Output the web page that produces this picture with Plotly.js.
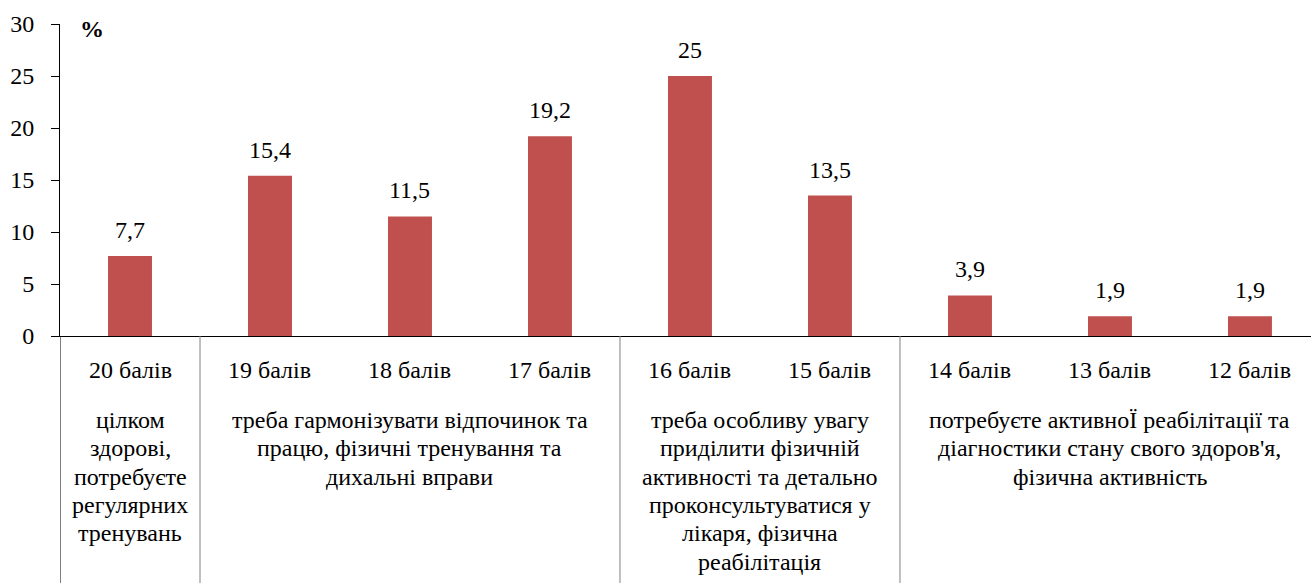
<!DOCTYPE html>
<html>
<head>
<meta charset="utf-8">
<script src="https://cdn.plot.ly/plotly-3.0.1.min.js"></script>
<style>html,body{margin:0;padding:0;overflow:hidden;background:#fff}</style>
</head>
<body>
<div id="chart" style="width:1311px;height:583px"></div>
<script>
var scoreLabels = ["20 балів","19 балів","18 балів","17 балів","16 балів","15 балів","14 балів","13 балів","12 балів"];
var shares = [7.7, 15.4, 11.5, 19.2, 25, 13.5, 3.9, 1.9, 1.9];
var shareLabels = ["7,7","15,4","11,5","19,2","25","13,5","3,9","1,9","1,9"];
var groupFirst = [0, 1, 4, 6];
var groupLast = [0, 3, 5, 8];
var groupDescriptions = [
  ["цілком", "здорові,", "потребуєте", "регулярних", "тренувань"],
  ["треба гармонізувати відпочинок та", "працю, фізичні тренування та", "дихальні вправи"],
  ["треба особливу увагу", "приділити фізичній", "активності та детально", "проконсультуватися у", "лікаря, фізична", "реабілітація"],
  ["потребуєте активноЇ реабілітації та", "діагностики стану свого здоров'я,", "фізична активність"]
];
var yTickValues = [0, 5, 10, 15, 20, 25, 30];
var unitText = "%";

var SERIF = '"Liberation Serif", "Times New Roman", serif';
var positions = scoreLabels.map(function(_, i){ return i; });

var notes = [];
positions.forEach(function(i){
  notes.push({x: i, y: shares[i], xref: 'x', yref: 'y', text: shareLabels[i],
    showarrow: false, yanchor: 'middle', yshift: 26, font: {family: SERIF, size: 24, color: '#000'}});
  notes.push({x: i, y: 0, xref: 'x', yref: 'paper', text: scoreLabels[i],
    showarrow: false, yanchor: 'middle', yshift: -34, font: {family: SERIF, size: 24, color: '#000'}});
});
groupDescriptions.forEach(function(lns, g){
  lns.forEach(function(t, k){
    notes.push({x: (groupFirst[g] + groupLast[g]) / 2, y: 0, xref: 'x', yref: 'paper', text: t,
      showarrow: false, yanchor: 'middle', yshift: -84 - k * 28.3,
      font: {family: SERIF, size: 24, color: '#000'}});
  });
});
notes.push({x: 0, y: 1, xref: 'paper', yref: 'paper', text: '<b>' + unitText + '</b>',
  showarrow: false, xanchor: 'left', yanchor: 'middle', xshift: 18, yshift: -5,
  font: {family: SERIF, size: 24, color: '#000'}});

var lines = [];
var cuts = [-0.5].concat(groupLast.slice(0, groupLast.length - 1).map(function(e){ return e + 0.5; }));
cuts.forEach(function(d){
  lines.push({type: 'line', xref: 'x', yref: 'paper', x0: d, x1: d, y0: 0, y1: -0.85,
    line: {color: d === -0.5 ? '#000' : '#808080', width: 1}});
});

var layout = {
  width: 1311, height: 583,
  margin: {l: 60, r: 0, t: 24, b: 247},
  font: {family: SERIF, size: 24, color: '#000'},
  showlegend: false,
  xaxis: {range: [-0.5, 8.436], showticklabels: false, showgrid: false, zeroline: false,
    showline: true, linecolor: '#000'},
  yaxis: {range: [0, 30], tickvals: yTickValues, showgrid: false, zeroline: false, showline: true,
    linecolor: '#000', ticks: 'outside', ticklen: 8, tickcolor: '#000', ticklabelstandoff: 12},
  annotations: notes,
  shapes: lines
};
Plotly.newPlot('chart', [{type: 'bar', x: positions, y: shares, width: 0.314,
  marker: {color: '#C0504D'}, hoverinfo: 'none'}], layout, {displayModeBar: false});
</script>
</body>
</html>
